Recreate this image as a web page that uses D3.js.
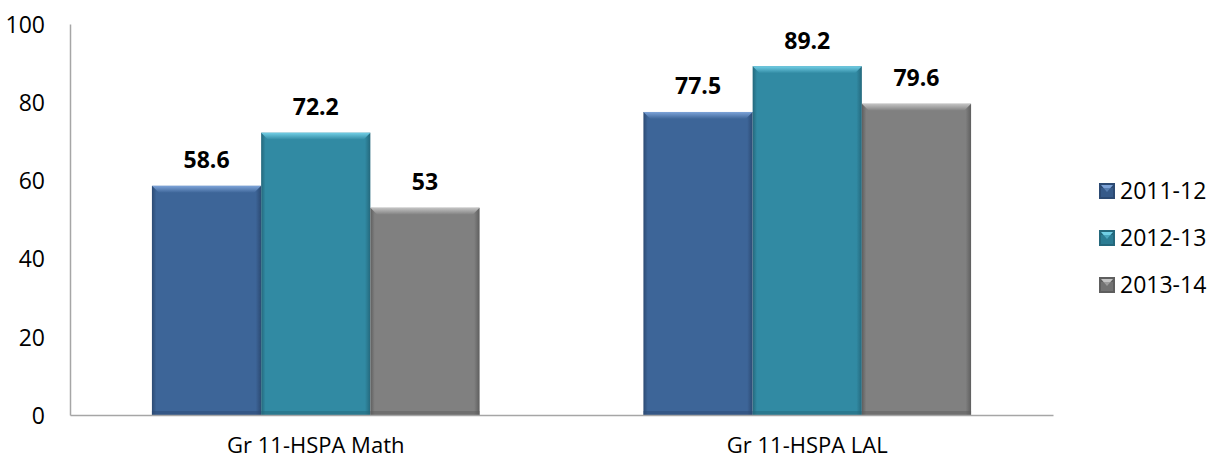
<!DOCTYPE html>
<html>
<head>
<meta charset="utf-8">
<script src="https://cdn.jsdelivr.net/npm/d3@7"></script>
<style>
  html, body { margin: 0; padding: 0; background: #fff; }
  svg { display: block; font-family: "Open Sans", "Noto Sans", sans-serif; }
</style>
</head>
<body>
<svg id="chart" width="1211" height="460"></svg>
<script>
// Chart data
const categories = ["Gr 11-HSPA Math", "Gr 11-HSPA LAL"];
const seriesNames = ["2011-12", "2012-13", "2013-14"];
const values2011 = [58.6, 77.5];
const values2012 = [72.2, 89.2];
const values2013 = [53, 79.6];
const yTicks = [0, 20, 40, 60, 80, 100];

const seriesValues = [values2011, values2012, values2013];
const colors = ["#3d6598", "#318aa3", "#808080"];
const lightColors = ["#7da3d8", "#72cfe6", "#c4c4c4"];
const darkColors = ["#2c4a73", "#24687c", "#5e5e5e"];

const svg = d3.select("#chart");
const margin = { left: 70, right: 158, top: 24, bottom: 45 };
const W = 1211, H = 460;
const FS = 23;

const x0 = d3.scaleBand().domain(categories).range([margin.left, W - margin.right]).paddingInner(0).paddingOuter(0);
const x1 = d3.scaleBand().domain(seriesNames).range([0, x0.bandwidth()]).paddingOuter(0.75).paddingInner(0);
const y = d3.scaleLinear().domain([0, 100]).range([H - margin.bottom, margin.top]);

const defs = svg.append("defs");
seriesNames.forEach((s, i) => {
  const g = defs.append("linearGradient").attr("id", "side" + i).attr("x1", 0).attr("x2", 1).attr("y1", 0).attr("y2", 0);
  g.append("stop").attr("offset", "0%").attr("stop-color", darkColors[i]);
  g.append("stop").attr("offset", "4%").attr("stop-color", colors[i]);
  g.append("stop").attr("offset", "95%").attr("stop-color", colors[i]);
  g.append("stop").attr("offset", "100%").attr("stop-color", darkColors[i]);
  const t = defs.append("linearGradient").attr("id", "top" + i).attr("x1", 0).attr("x2", 0).attr("y1", 0).attr("y2", 1);
  t.append("stop").attr("offset", "0%").attr("stop-color", lightColors[i]);
  t.append("stop").attr("offset", "100%").attr("stop-color", colors[i]);
});

// Y axis
const yAxis = svg.append("g").attr("transform", `translate(${margin.left},0)`)
  .call(d3.axisLeft(y).tickValues(yTicks).tickSize(0).tickPadding(0));
yAxis.select(".domain").attr("stroke", "#a6a6a6").attr("stroke-width", 1.5);
yAxis.selectAll("text").attr("x", -25).attr("dy", "0.36em")
  .attr("font-size", FS).attr("fill", "#000").attr("text-anchor", "end")
  .attr("font-family", "'Open Sans', sans-serif");

// Bars
const groups = svg.append("g").selectAll("g").data(categories).join("g")
  .attr("transform", d => `translate(${x0(d)},0)`);

groups.each(function(cat, ci) {
  const g = d3.select(this);
  seriesNames.forEach((s, si) => {
    const v = seriesValues[si][ci];
    const bx = x1(s), bw = x1.bandwidth();
    const by = y(v), bh = y(0) - y(v);
    const bar = g.append("g");
    bar.append("rect").attr("x", bx).attr("y", by).attr("width", bw).attr("height", bh)
      .attr("fill", `url(#side${si})`);
    // bevelled top edge
    const bev = 7;
    bar.append("path")
      .attr("d", `M${bx},${by} L${bx + bw},${by} L${bx + bw - bev},${by + bev} L${bx + bev},${by + bev} Z`)
      .attr("fill", `url(#top${si})`);
    // bottom shade
    bar.append("rect").attr("x", bx).attr("y", y(0) - 4).attr("width", bw).attr("height", 4)
      .attr("fill", darkColors[si]).attr("opacity", 0.5);
    // value label
    g.append("text").attr("x", bx + bw / 2).attr("y", by - 26).attr("dy", "0.36em")
      .attr("text-anchor", "middle").attr("font-weight", "bold").attr("font-size", FS)
      .attr("fill", "#000").text(v);
  });
});

// X axis
const xAxis = svg.append("g").attr("transform", `translate(0,${y(0)})`)
  .call(d3.axisBottom(x0).tickSize(0).tickPadding(0));
xAxis.select(".domain").attr("stroke", "#a6a6a6").attr("stroke-width", 1.5);
xAxis.selectAll("text").attr("y", 30).attr("dy", "0.36em").attr("font-size", 22).attr("fill", "#000")
  .attr("font-family", "'Open Sans', sans-serif");

// Legend
const legend = svg.append("g").attr("transform", "translate(1099,191)");
seriesNames.forEach((s, i) => {
  const row = legend.append("g").attr("transform", `translate(0,${i * 47})`);
  row.append("rect").attr("x", 0).attr("y", -8).attr("width", 16).attr("height", 16).attr("fill", darkColors[i]);
  row.append("path").attr("d", "M2,-6 L14,-6 L8,1 Z").attr("fill", lightColors[i]);
  row.append("rect").attr("x", 2).attr("y", -3).attr("width", 12).attr("height", 9).attr("fill", colors[i]).attr("opacity", 0.6);
  row.append("text").attr("x", 21).attr("y", 0).attr("dy", "0.36em")
    .attr("font-size", FS).attr("fill", "#000").text(s);
});
</script>
</body>
</html>
